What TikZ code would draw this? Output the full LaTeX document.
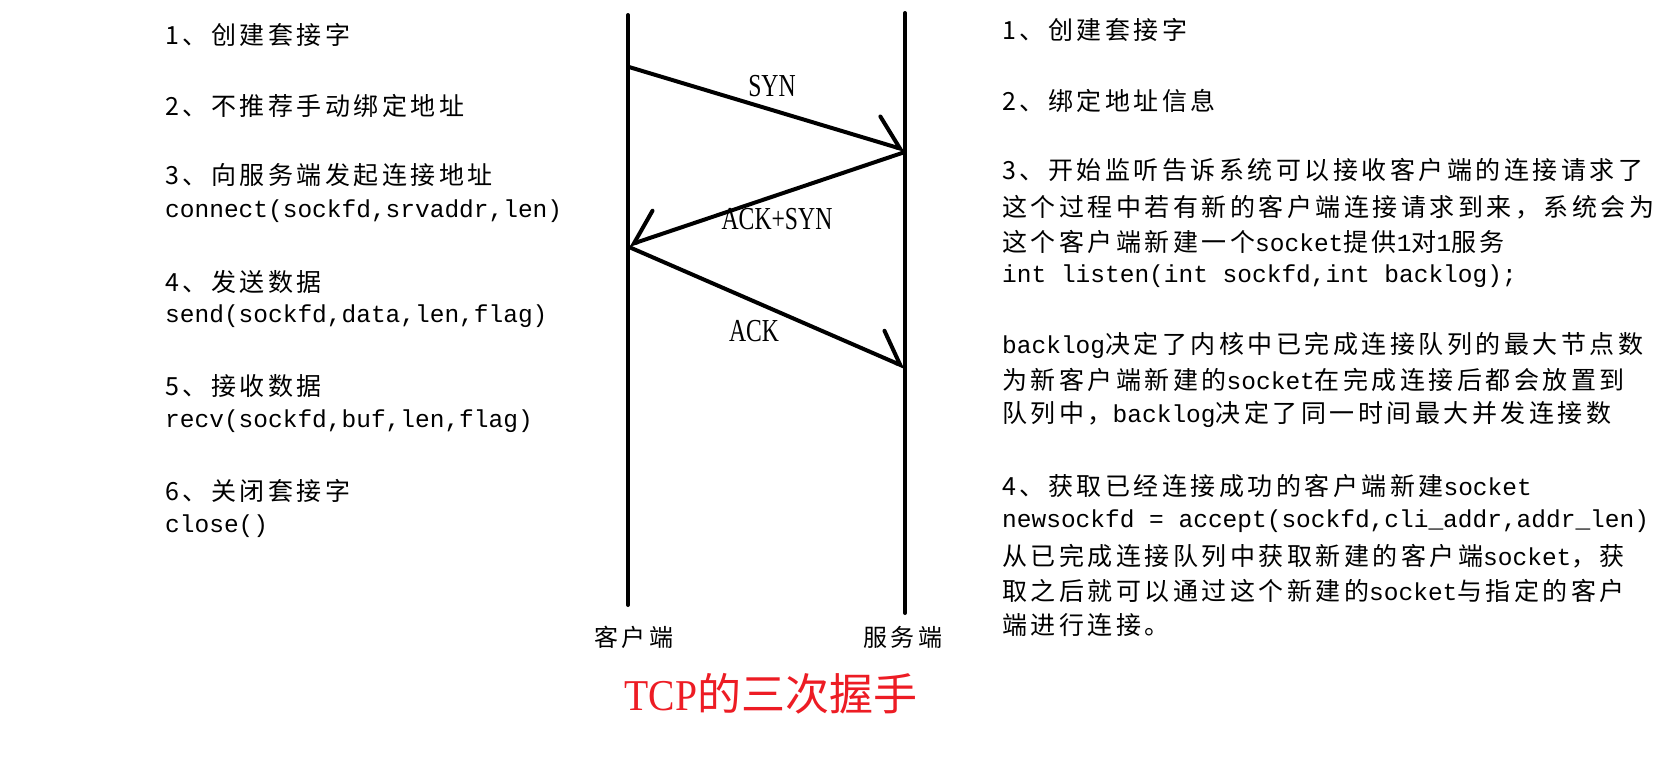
\documentclass[tikz,border=0pt]{standalone}
\usepackage{fontspec}
\usetikzlibrary{arrows.meta}
\newfontfamily\lcjk[LetterSpace=14]{Noto Sans CJK SC}
\newfontfamily\rcjk{Noto Sans CJK SC}
\newfontfamily\lmono{Liberation Mono}
\newfontfamily\lblfont[FakeStretch=0.74]{Liberation Serif}
\newfontfamily\ttlserif[FakeStretch=0.9]{Liberation Serif}
\newcommand\rl[1]{{\lmono\fontsize{24.5}{30}\selectfont #1}}
\definecolor{tcpred}{RGB}{237,28,36}
\begin{document}
\begin{tikzpicture}[x=1pt,y=-1pt,
  ltxt/.style={anchor=west, inner sep=0pt, font=\lcjk\fontsize{25}{30}\selectfont},
  lcode/.style={anchor=west, inner sep=0pt, font=\lmono\fontsize{24.5}{30}\selectfont},
  lbl/.style={inner sep=0pt, font=\lblfont\fontsize{32}{36}\selectfont},
  role/.style={inner sep=0pt, font=\lcjk\fontsize{24}{28}\selectfont},
  ttl/.style={inner sep=0pt, text=tcpred, font=\rcjk\fontsize{44}{48}\selectfont},
  life/.style={line width=4pt, line cap=round},
  msg/.style={line width=4pt, line cap=round, line join=round},
  hl/.style={-{Straight Barb[left, length=28pt, width=50pt, line cap=round]}},
  hr/.style={-{Straight Barb[right, length=28pt, width=50pt, line cap=round]}}
  ]
\useasboundingbox[fill=white] (0,0) rectangle (1666,772);

% lifelines
\coordinate (ctop) at (628,15);
\coordinate (cbot) at (628,605);
\coordinate (stop) at (905,13);
\coordinate (sbot) at (905,613);
\draw[life] (ctop) -- (cbot);
\draw[life] (stop) -- (sbot);

% message points
\coordinate (a1) at (629,67);
\coordinate (b1) at (905,150);
\coordinate (b2) at (905,152);
\coordinate (a2) at (629,245);
\coordinate (a3) at (629,247);
\coordinate (b3) at (905,367);
\draw[msg,hl] (a1) -- (b1);
\draw[msg,hr] (b2) -- (a2);
\draw[msg,hl] (a3) -- (b3);

\node[lbl] (syn) at (772,86) {SYN};
\node[lbl] (acksyn) at (777,219) {ACK+SYN};
\node[lbl] (ack) at (754,331) {ACK};

\node[role] (client) at (634,637) {客户端};
\node[role] (server) at (903,637) {服务端};
\node[ttl] (title) at (771,694) {{\ttlserif TCP}的三次握手};

% left column
\node[ltxt] (l1) at (165,35) {1、创建套接字};
\node[ltxt] (l2) at (165,106) {2、不推荐手动绑定地址};
\node[ltxt] (l3) at (165,175) {3、向服务端发起连接地址};
\node[lcode] (l4) at (165,211) {connect(sockfd,srvaddr,len)};
\node[ltxt] (l5) at (165,282) {4、发送数据};
\node[lcode] (l6) at (165,316) {send(sockfd,data,len,flag)};
\node[ltxt] (l7) at (165,386) {5、接收数据};
\node[lcode] (l8) at (165,421) {recv(sockfd,buf,len,flag)};
\node[ltxt] (l9) at (165,491) {6、关闭套接字};
\node[lcode] (l10) at (165,526) {close()};

% right column
\node[ltxt] (r1) at (1002,30) {1、创建套接字};
\node[ltxt] (r2) at (1002,101) {2、绑定地址信息};
\node[ltxt] (r3) at (1002,170) {3、开始监听告诉系统可以接收客户端的连接请求了};
\node[ltxt] (r4) at (1002,207) {这个过程中若有新的客户端连接请求到来，系统会为};
\node[ltxt] (r5) at (1002,242) {这个客户端新建一个\rl{socket}提供\rl{1}对\rl{1}服务};
\node[lcode] (r6) at (1002,276) {int listen(int sockfd,int backlog);};
\node[ltxt] (r7) at (1002,345) {\rl{backlog}决定了内核中已完成连接队列的最大节点数};
\node[ltxt] (r8) at (1002,380) {为新客户端新建的\rl{socket}在完成连接后都会放置到};
\node[ltxt] (r9) at (1002,414) {队列中，\rl{backlog}决定了同一时间最大并发连接数};
\node[ltxt] (r10) at (1002,486) {4、获取已经连接成功的客户端新建\rl{socket}};
\node[lcode] (r11) at (1002,521) {newsockfd = accept(sockfd,cli\_addr,addr\_len)};
\node[ltxt] (r12) at (1002,556) {从已完成连接队列中获取新建的客户端\rl{socket}，获};
\node[ltxt] (r13) at (1002,591) {取之后就可以通过这个新建的\rl{socket}与指定的客户};
\node[ltxt] (r14) at (1002,625) {端进行连接。};
\end{tikzpicture}
\end{document}
